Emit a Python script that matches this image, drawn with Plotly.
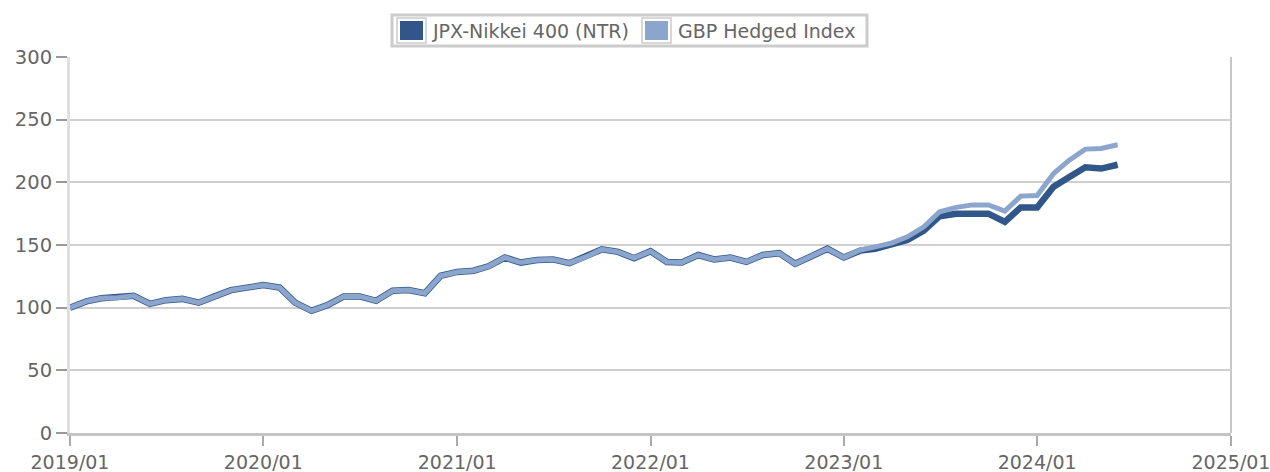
import pandas as pd
import plotly.graph_objects as go

# Monthly index levels, rebased to 100 at January 2019
months = pd.date_range("2019-01-01", periods=66, freq="MS")

jpx_nikkei_ntr = [
    100, 105, 107.5, 108, 109.5, 103, 106, 107, 104, 109, 114, 116,
    118, 116, 104, 97.5, 102, 109, 109, 105.5, 113.5, 114, 111.5, 125.5,
    128.5, 129.5, 133, 140, 136, 138, 138.5, 135.5, 140.5, 146.5, 144.5, 139.5,
    145, 136.5, 136, 142, 138.5, 140, 136.5, 142, 143.5, 135, 141, 147,
    140, 145.5, 147, 150, 154, 161.5, 173, 175, 175, 175, 168.5, 180,
    180, 196.5, 204, 212, 211, 214,
]

gbp_hedged = [
    100, 105, 107.5, 108, 109.5, 103, 106, 107, 104, 109, 114, 116,
    118, 116, 104, 97.5, 102, 109, 109, 105.5, 113.5, 114, 111.5, 125.5,
    128.5, 129.5, 133, 140, 136, 138, 138.5, 135.5, 140.5, 146.5, 144.5, 139.5,
    145, 136.5, 136, 142, 138.5, 140, 136.5, 142, 143.5, 135, 141, 147,
    140, 146, 148.5, 151.5, 156.5, 164.5, 176.5, 180, 182, 182, 177, 189,
    189.5, 207, 217.5, 226.5, 227, 230,
]

series_names = ["JPX-Nikkei 400 (NTR)", "GBP Hedged Index"]
x_ticks = pd.date_range("2019-01-01", "2025-01-01", freq="YS")
x_tick_labels = [d.strftime("%Y/%m") for d in x_ticks]
y_ticks = [0, 50, 100, 150, 200, 250, 300]

DARK = "#30568a"
LIGHT = "#8ca5cc"
TEXT = "#666666"
FONT = "DejaVu Sans"

W, H = 1270, 472
L, R, T, B = 70, 1231, 57, 433


def px(x):
    return (x - L) / (R - L)


def py(y):
    return (B - y) / (B - T)


fig = go.Figure()
fig.add_trace(go.Scatter(
    x=months, y=jpx_nikkei_ntr, mode="lines", name=series_names[0],
    line=dict(color=DARK, width=6.5), showlegend=False,
))
fig.add_trace(go.Scatter(
    x=months, y=gbp_hedged, mode="lines", name=series_names[1],
    line=dict(color=LIGHT, width=5), showlegend=False,
))

shapes = []
annotations = []

# right-hand frame edge
shapes.append(dict(type="line", xref="paper", yref="paper",
                   x0=1, x1=1, y0=0, y1=1,
                   line=dict(color="#b5b5b5", width=1.5), layer="below"))

# legend box with square swatches
shapes.append(dict(type="rect", xref="paper", yref="paper",
                   x0=px(392), x1=px(867), y0=py(15), y1=py(46),
                   line=dict(color="#cccccc", width=3), fillcolor="white"))
legend_items = [(397, 430, DARK, series_names[0]), (642, 676, LIGHT, series_names[1])]
for sx, tx, col, label in legend_items:
    shapes.append(dict(type="rect", xref="paper", yref="paper",
                       x0=px(sx), x1=px(sx + 29), y0=py(18), y1=py(43),
                       line=dict(color="#cccccc", width=1.5), fillcolor="white"))
    shapes.append(dict(type="rect", xref="paper", yref="paper",
                       x0=px(sx + 3), x1=px(sx + 26), y0=py(21), y1=py(40),
                       line=dict(width=0), fillcolor=col))
    annotations.append(dict(xref="paper", yref="paper", x=px(tx), y=py(31),
                            text=label, showarrow=False, xanchor="left",
                            yanchor="middle",
                            font=dict(family=FONT, size=19, color=TEXT)))

fig.update_layout(
    width=W, height=H,
    margin=dict(l=L, r=W - R, t=T, b=H - B, pad=0),
    paper_bgcolor="white", plot_bgcolor="white",
    font=dict(family=FONT, size=19, color=TEXT),
    showlegend=False,
    shapes=shapes,
    annotations=annotations,
    xaxis=dict(
        range=[x_ticks[0], x_ticks[-1]],
        tickvals=x_ticks, ticktext=x_tick_labels,
        ticks="outside", ticklen=10, tickwidth=1.5, tickcolor="#aaaaaa",
        showgrid=False, showline=True, linecolor="#c4c4c4", linewidth=3,
        zeroline=False, fixedrange=True, automargin=False,
        ticklabeloverflow="allow",
        tickfont=dict(family=FONT, size=19, color=TEXT),
    ),
    yaxis=dict(
        range=[0, 300], tickvals=y_ticks,
        ticks="outside", ticklen=11, tickwidth=1.5, tickcolor="#999999",
        showgrid=True, gridcolor="#d0d0d0", gridwidth=1.5,
        showline=True, linecolor="#e0e0e0", linewidth=3,
        zeroline=False, fixedrange=True, automargin=False,
        tickfont=dict(family=FONT, size=19.5, color=TEXT),
    ),
)

fig.write_html("out.html")
